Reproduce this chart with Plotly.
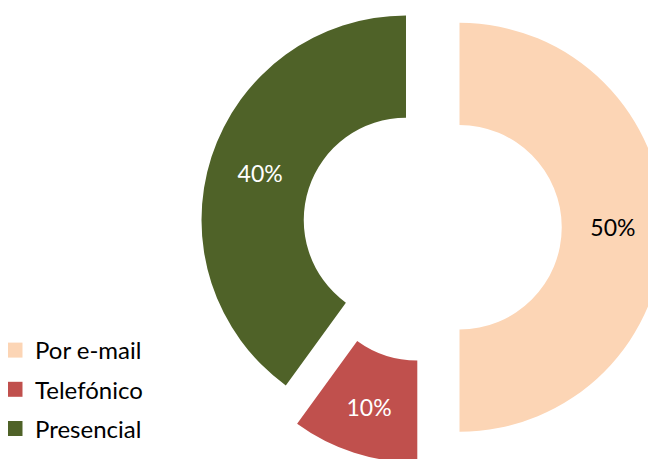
import plotly.graph_objects as go

labels = ["Por e-mail", "Telefónico", "Presencial"]
values = [50, 10, 40]
colors = ["#FCD5B5", "#C0504D", "#4F6228"]
text_colors = ["#000000", "#FFFFFF", "#FFFFFF"]

W, H = 656, 459
R = 204.5  # outer radius in px
# exploded centre of each slice, in figure pixels
centers = [(451.5, 219.3), (409.3, 250.3), (398.0, 212.0)]

fig = go.Figure()

for i, (cx, cy) in enumerate(centers):
    cols = ["rgba(0,0,0,0)"] * len(values)
    cols[i] = colors[i]
    tmpl = [""] * len(values)
    tmpl[i] = "%{percent:.0%}"
    tcol = ["rgba(0,0,0,0)"] * len(values)
    tcol[i] = text_colors[i]
    fig.add_trace(
        go.Pie(
            labels=labels,
            values=values,
            hole=0.5,
            sort=False,
            direction="clockwise",
            rotation=0,
            marker=dict(colors=cols, line=dict(width=0)),
            texttemplate=tmpl,
            textposition="inside",
            insidetextorientation="horizontal",
            insidetextfont=dict(color=tcol, size=23, family="Lato"),
            hoverinfo="skip",
            showlegend=False,
            domain=dict(
                x=[(cx - R) / W, (cx + R) / W],
                y=[1 - (cy + R) / H, 1 - (cy - R) / H],
            ),
        )
    )

# legend entries
for i, lab in enumerate(labels):
    fig.add_trace(
        go.Scatter(
            x=[None],
            y=[None],
            mode="markers",
            name=lab,
            legendgroup=lab,
            marker=dict(symbol="square", size=15, color=colors[i]),
            showlegend=True,
            hoverinfo="skip",
        )
    )

fig.update_layout(
    width=W,
    height=H,
    margin=dict(l=0, r=0, t=0, b=0, autoexpand=False),
    paper_bgcolor="white",
    plot_bgcolor="white",
    xaxis=dict(visible=False),
    yaxis=dict(visible=False),
    font=dict(family="Lato", size=24, color="#000000"),
    legend=dict(
        x=-13 / W,
        y=1 - 320 / H,
        xanchor="left",
        yanchor="top",
        traceorder="grouped",
        tracegroupgap=5,
        font=dict(family="Lato", size=24, color="#000000"),
        bgcolor="rgba(0,0,0,0)",
    ),
    showlegend=True,
)

fig.write_html("out.html")
